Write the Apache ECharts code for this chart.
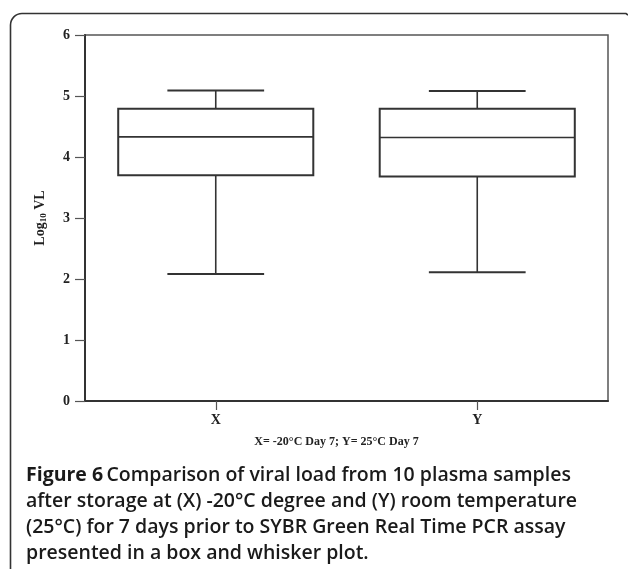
<!DOCTYPE html>
<html>
<head>
<meta charset="utf-8">
<script src="https://cdn.jsdelivr.net/npm/echarts@6/dist/echarts.min.js"></script>
<style>
html,body{margin:0;padding:0;background:#fff;}
#chart{width:628px;height:569px;}
</style>
</head>
<body>
<div id="chart"></div>
<script>
// ---- data ----
const categories = ['X', 'Y'];
const whiskerLow = [2.08, 2.11];
const quartile1 = [3.70, 3.68];
const medians = [4.33, 4.32];
const quartile3 = [4.79, 4.79];
const whiskerHigh = [5.09, 5.08];
const yTicks = [0, 1, 2, 3, 4, 5, 6];
const xAxisTitle = 'X= -20°C Day 7; Y= 25°C Day 7';
const captionLines = [
  'Comparison of viral load from 10 plasma samples',
  'after storage at (X) -20°C degree and (Y) room temperature',
  '(25°C) for 7 days prior to SYBR Green Real Time PCR assay',
  'presented in a box and whisker plot.'
];
const figureLabel = 'Figure 6';

const ink = '#333';
const serif = 'Liberation Serif';
const sans = 'Open Sans';

const boxData = categories.map((c, i) => [i, whiskerLow[i], quartile1[i], medians[i], quartile3[i], whiskerHigh[i]]);

function renderBox(params, api) {
  const c = api.value(0);
  const band = api.size([1, 0])[0];
  const halfBox = band * 0.373;
  const halfCap = band * 0.185;
  const pLo = api.coord([c, api.value(1)]);
  const pQ1 = api.coord([c, api.value(2)]);
  const pMed = api.coord([c, api.value(3)]);
  const pQ3 = api.coord([c, api.value(4)]);
  const pHi = api.coord([c, api.value(5)]);
  const x = pLo[0];
  const st = { stroke: ink, lineWidth: 2, fill: null };
  const thin = { stroke: ink, lineWidth: 1.6, fill: null };
  return {
    type: 'group',
    children: [
      { type: 'line', shape: { x1: x, y1: pLo[1], x2: x, y2: pQ1[1] }, style: thin },
      { type: 'line', shape: { x1: x, y1: pQ3[1], x2: x, y2: pHi[1] }, style: thin },
      { type: 'line', shape: { x1: x - halfCap, y1: pLo[1], x2: x + halfCap, y2: pLo[1] }, style: st },
      { type: 'line', shape: { x1: x - halfCap, y1: pHi[1], x2: x + halfCap, y2: pHi[1] }, style: st },
      { type: 'rect', shape: { x: x - halfBox, y: pQ3[1], width: 2 * halfBox, height: pQ1[1] - pQ3[1] }, style: st },
      { type: 'line', shape: { x1: x - halfBox, y1: pMed[1], x2: x + halfBox, y2: pMed[1] }, style: thin }
    ]
  };
}

const chart = echarts.init(document.getElementById('chart'), null, { renderer: 'canvas' });

const captionText = '{b|' + figureLabel + '} {n|' + captionLines[0] + '}\n' +
  captionLines.slice(1).map(l => '{n|' + l + '}').join('\n');

chart.setOption({
  backgroundColor: '#fff',
  animation: false,
  grid: {
    left: 85, right: 20, top: 35, bottom: 168,
    show: true, borderColor: '#555', borderWidth: 1.5, backgroundColor: 'transparent'
  },
  xAxis: {
    type: 'category',
    data: categories,
    boundaryGap: true,
    axisLine: { show: true, lineStyle: { color: ink, width: 2 } },
    axisTick: { show: true, alignWithLabel: true, length: 9, lineStyle: { color: '#555', width: 1.2 } },
    axisLabel: { margin: 12, color: '#222', fontFamily: serif, fontWeight: 'bold', fontSize: 14 },
    splitLine: { show: false },
    name: xAxisTitle,
    nameLocation: 'middle',
    nameGap: 35,
    nameTextStyle: { color: '#222', fontFamily: serif, fontWeight: 'bold', fontSize: 12, padding: [0, 20, 0, 0] }
  },
  yAxis: {
    type: 'value',
    min: yTicks[0],
    max: yTicks[yTicks.length - 1],
    interval: 1,
    axisLine: { show: true, lineStyle: { color: ink, width: 2 } },
    axisTick: { show: true, length: 10, lineStyle: { color: '#555', width: 1.2 } },
    axisLabel: { margin: 15, color: '#222', fontFamily: serif, fontWeight: 'bold', fontSize: 14 },
    splitLine: { show: false },
    name: '{m|Log}{s|10}{m| VL}',
    nameLocation: 'middle',
    nameRotate: 90,
    nameGap: 37,
    nameTextStyle: {
      rich: {
        m: { fontFamily: serif, fontWeight: 'bold', fontSize: 14, color: '#222' },
        s: { fontFamily: serif, fontWeight: 'bold', fontSize: 9, color: '#222', verticalAlign: 'bottom', padding: [6, 0, 0, 0] }
      }
    }
  },
  series: [{
    type: 'custom',
    renderItem: renderBox,
    encode: { x: 0, y: [1, 2, 3, 4, 5] },
    data: boxData,
    z: 5
  }],
  graphic: [
    {
      type: 'polyline',
      shape: { points: [[10.5, 569], [10.5, 25]] },
      style: { stroke: '#333', lineWidth: 1.6, fill: null },
      silent: true
    },
    {
      type: 'arc',
      shape: { cx: 22, cy: 25, r: 11.5, startAngle: Math.PI, endAngle: Math.PI * 1.5, clockwise: true },
      style: { stroke: '#333', lineWidth: 1.6, fill: null },
      silent: true
    },
    {
      type: 'polyline',
      shape: { points: [[22, 13.5], [626, 13.5], [628, 15]] },
      style: { stroke: '#333', lineWidth: 1.6, fill: null },
      silent: true
    },
    {
      type: 'text',
      left: 26,
      top: 462,
      style: {
        text: captionText,
        lineHeight: 26,
        rich: {
          b: { fontFamily: sans, fontWeight: 'bold', fontSize: 19.5, fill: '#1a1a1a', lineHeight: 26 },
          n: { fontFamily: sans, fontWeight: 600, fontSize: 19.5, fill: '#1a1a1a', lineHeight: 26 }
        }
      }
    }
  ]
});
</script>
</body>
</html>
